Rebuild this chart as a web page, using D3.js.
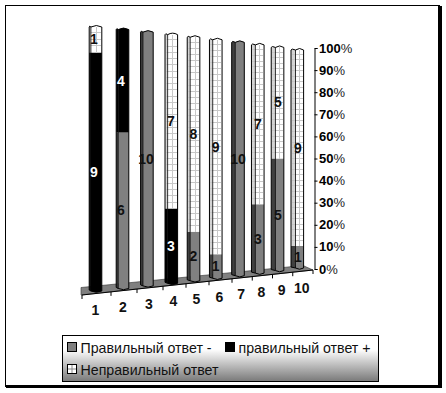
<!DOCTYPE html>
<html>
<head>
<meta charset="utf-8">
<script src="https://cdn.jsdelivr.net/npm/d3@7"></script>
<style>
  html, body { margin: 0; padding: 0; background: #fff; }
  svg { display: block; }
  text { font-family: "Liberation Sans", Arial, sans-serif; }
</style>
</head>
<body>
<div id="chart"></div>
<script>
const categories = [1, 2, 3, 4, 5, 6, 7, 8, 9, 10];
const wrongMinus = [0, 6, 10, 0, 2, 1, 10, 3, 5, 1];
const rightPlus = [9, 4, 0, 3, 0, 0, 0, 0, 0, 0];
const wrongAnswer = [1, 0, 0, 7, 8, 9, 0, 7, 5, 9];
const percentTicks = [0, 10, 20, 30, 40, 50, 60, 70, 80, 90, 100];
const seriesNames = ["Правильный ответ -", "правильный ответ +", "Неправильный ответ"];

const width = 446;
const height = 393;

const svg = d3.select("#chart").append("svg").attr("width", width).attr("height", height);

const defs = svg.append("defs");
const grad = defs.append("linearGradient").attr("id", "legendFill").attr("x1", 0).attr("y1", 0).attr("x2", 0).attr("y2", 1);
grad.append("stop").attr("offset", "0.3").attr("stop-color", "#ffffff");
grad.append("stop").attr("offset", "1").attr("stop-color", "#787878");

// frame with its heavy shadow on the right and bottom
svg.append("rect").attr("x", 5.5).attr("y", 5.5).attr("width", 434).attr("height", 381)
  .attr("fill", "#fff").attr("stroke", "#000");
svg.append("rect").attr("x", 438).attr("y", 6).attr("width", 4).attr("height", 382);
svg.append("rect").attr("x", 6).attr("y", 385).attr("width", 436).attr("height", 3);

// perspective: every column sits further back than the previous one
const xCenter = d3.scaleLinear().domain([1, 2, 4, 7, 10]).range([95.5, 122.5, 171.3, 238, 297.3]);
const xLabel = d3.scaleLinear().domain([1, 2, 4, 7, 10]).range([94, 121, 171, 238, 298]);
const yBase = d3.scaleLinear().domain([1, 10]).range([291, 268]);
const yTop = d3.scaleLinear().domain([1, 10]).range([26, 49]);
const sideWidth = d3.scaleLinear().domain([1, 10]).range([1.7, 4.5]);
const barWidth = 12.6;
const xEdge = d3.scaleLinear().domain([0, 1, 3, 6, 10]).range([82, 111, 163, 232, 313]);
const floorY = d3.scaleLinear().domain([82, 313]).range([295, 270]);
const pct = d3.scaleLinear().domain([0, 100]).range([0, 1]);
const yAt = (cat, p) => yBase(cat) + (yTop(cat) - yBase(cat)) * pct(p);

// floor
svg.append("path")
  .attr("d", d3.line()([[81, 287.5], [303, 265.5], [313, 270], [81, 295]]) + "Z")
  .attr("fill", "#808080").attr("stroke", "#333").attr("stroke-width", 0.6);

// category ticks and labels
const catAxis = svg.append("g");
d3.range(0, 11).forEach((i) => {
  const tx = xEdge(i);
  catAxis.append("line").attr("x1", tx).attr("x2", tx)
    .attr("y1", floorY(tx)).attr("y2", floorY(tx) + 4)
    .attr("stroke", "#000");
});
catAxis.append("line")
  .attr("x1", xEdge(0)).attr("y1", floorY(xEdge(0)))
  .attr("x2", xEdge(10)).attr("y2", floorY(xEdge(10)))
  .attr("stroke", "#000");
catAxis.selectAll("text").data(categories).enter().append("text")
  .attr("x", (d) => (xEdge(d - 1) + xEdge(d)) / 2 - 1)
  .attr("y", (d) => floorY((xEdge(d - 1) + xEdge(d)) / 2) + 21.5)
  .attr("text-anchor", "middle")
  .attr("font-size", 14)
  .attr("font-weight", "bold")
  .attr("fill", "#111")
  .text((d) => d);

// stacked columns
const table = categories.map((c, i) => ({ cat: c, a: wrongMinus[i], b: rightPlus[i], c: wrongAnswer[i] }));
const stacked = d3.stack().keys(["a", "b", "c"])(table);
const frontFill = { a: "#808080", b: "#000000", c: "#ffffff" };
const sideFill = { a: "#404040", b: "#000000", c: "#d4d4d4" };
const gridLines = d3.range(0, 100, 2.5);

const columns = svg.append("g");
categories.forEach((cat, i) => {
  const g = columns.append("g");
  const x0 = xCenter(cat) - barWidth / 2;
  const xs = x0 + sideWidth(cat);
  const x1 = x0 + barWidth;
  const total = wrongMinus[i] + rightPlus[i] + wrongAnswer[i];
  const segs = stacked.map((s) => ({ key: s.key, y0: s[i][0], y1: s[i][1] })).filter((s) => s.y1 > s.y0);
  const bottom = yAt(cat, 0);
  const top = yAt(cat, 100);

  segs.forEach((s) => {
    const yLow = yAt(cat, (s.y0 / total) * 100);
    const yHigh = yAt(cat, (s.y1 / total) * 100);
    const isFirst = s.y0 === 0;
    const isLast = s.y1 === total;
    const lowF = isFirst ? `Q${(x1 + xs) / 2},${yLow + 2.5} ${xs},${yLow}` : `L${xs},${yLow}`;
    const highF = isLast ? `Q${(x1 + xs) / 2},${yHigh - 2} ${x1},${yHigh + 1}` : `L${x1},${yHigh}`;
    const yHighF = isLast ? yHigh + 1 : yHigh;
    g.append("path")
      .attr("d", `M${x1},${yLow} ${lowF} L${xs},${yHighF} ${highF} Z`)
      .attr("fill", frontFill[s.key]);
    const sideLow = isFirst ? `L${x0},${yLow - 1}` : `L${x0},${yLow}`;
    g.append("path")
      .attr("d", `M${xs},${yLow} ${sideLow} L${x0},${isLast ? yHigh + 1 : yHigh} ${isLast ? `Q${x0 + 0.4},${yHigh - 0.8} ${xs},${yHigh + 1}` : `L${xs},${yHigh}`} Z`)
      .attr("fill", sideFill[s.key]);

    if (s.key === "c") {
      const grid = g.append("g").attr("stroke", "#c8c8c8").attr("stroke-width", 1).attr("shape-rendering", "crispEdges");
      gridLines.forEach((p) => {
        if (p > (s.y0 / total) * 100 && p < (s.y1 / total) * 100) {
          grid.append("line").attr("x1", x0 + 1).attr("x2", x1 - 1).attr("y1", yAt(cat, p)).attr("y2", yAt(cat, p));
        }
      });
      grid.append("line").attr("x1", (xs + x1) / 2).attr("x2", (xs + x1) / 2).attr("y1", yLow).attr("y2", yHigh + 1);
    }
  });

  // outline of the whole column
  g.append("path")
    .attr("d", `M${x0},${bottom - 1} L${x0},${top + 1} Q${x0 + 0.4},${top - 0.8} ${xs},${top + 1} Q${(x1 + xs) / 2},${top - 2} ${x1},${top + 1} L${x1},${bottom} Q${(x1 + xs) / 2},${bottom + 2.5} ${xs},${bottom} L${x0},${bottom - 1}`)
    .attr("fill", "none").attr("stroke", "#000").attr("stroke-width", 1);
  g.append("line").attr("x1", xs).attr("x2", xs).attr("y1", top + 1).attr("y2", bottom)
    .attr("stroke", "#000").attr("stroke-width", 0.8);

  // data labels
  segs.forEach((s) => {
    const value = s.y1 - s.y0;
    g.append("text")
      .attr("x", xLabel(cat))
      .attr("y", yAt(cat, ((s.y0 + value / 2) / total) * 100) + 5)
      .attr("text-anchor", "middle")
      .attr("font-size", 14)
      .attr("font-weight", "bold")
      .attr("fill", s.key === "b" ? "#fff" : "#111")
      .text(value);
  });
});

// value axis
const yValue = d3.scaleLinear().domain([0, 100]).range([269, 48]);
const axis = svg.append("g").attr("transform", "translate(314.5,0)")
  .call(d3.axisRight(yValue).tickValues(percentTicks).tickSize(3).tickFormat(""));
axis.select(".domain").attr("stroke", "#000");
axis.selectAll(".tick line").attr("stroke", "#000");
const axisLabels = svg.append("g").selectAll("text").data(percentTicks).enter().append("text")
  .attr("x", 319)
  .attr("y", (d) => yValue(d) + 4.5)
  .attr("font-size", 13)
  .attr("fill", "#000");
axisLabels.append("tspan").attr("font-weight", "bold").text((d) => d);
axisLabels.append("tspan").attr("fill", "#222").text("%");

// legend
const legend = svg.append("g");
legend.append("rect").attr("x", 62.5).attr("y", 335.5).attr("width", 316).attr("height", 46)
  .attr("fill", "url(#legendFill)").attr("stroke", "#000");

const legendItems = [
  { name: seriesNames[0], key: "a", sx: 67, sy: 342 },
  { name: seriesNames[1], key: "b", sx: 225, sy: 342 },
  { name: seriesNames[2], key: "c", sx: 67, sy: 364 }
];
legendItems.forEach((d) => {
  legend.append("rect").attr("x", d.sx + 0.5).attr("y", d.sy + 0.5).attr("width", 9).attr("height", 9)
    .attr("fill", frontFill[d.key]).attr("stroke", "#000");
  if (d.key === "c") {
    legend.append("line").attr("x1", d.sx + 5).attr("x2", d.sx + 5).attr("y1", d.sy + 1).attr("y2", d.sy + 9).attr("stroke", "#888");
    legend.append("line").attr("x1", d.sx + 1).attr("x2", d.sx + 9).attr("y1", d.sy + 5).attr("y2", d.sy + 5).attr("stroke", "#888");
  }
  legend.append("text").attr("x", d.sx + 13.5).attr("y", d.sy + 11)
    .attr("font-size", 14.2).attr("fill", "#111").text(d.name);
});
</script>
</body>
</html>
